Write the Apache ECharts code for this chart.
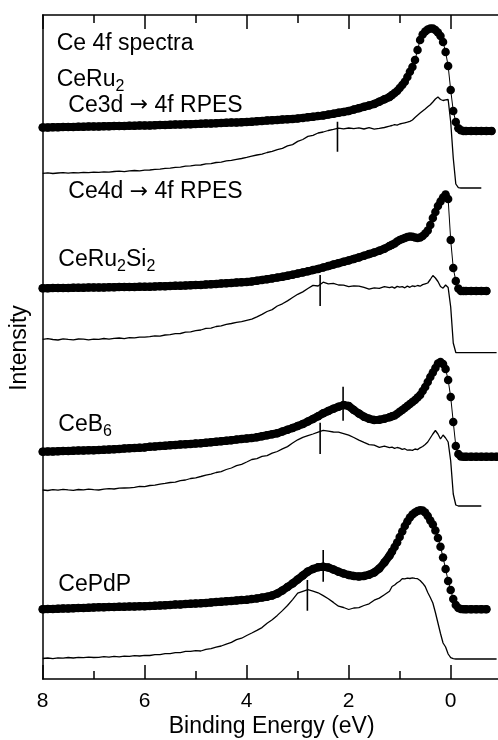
<!DOCTYPE html>
<html><head><meta charset="utf-8">
<script src="https://cdn.jsdelivr.net/npm/echarts@6/dist/echarts.min.js"></script>
<style>html,body{margin:0;padding:0;background:#fff}#c{width:498px;height:740px}</style>
</head><body><div id="c"></div>
<script>
// Binding energy grid (eV), shared by all spectra
const energy = [
 8.0,7.9,7.8,7.7,7.6,7.5,7.4,7.3,7.2,7.1,
 7.0,6.9,6.8,6.7,6.6,6.5,6.4,6.3,6.2,6.1,
 6.0,5.9,5.8,5.7,5.6,5.5,5.4,5.3,5.2,5.1,
 5.0,4.9,4.8,4.7,4.6,4.5,4.4,4.3,4.2,4.1,
 4.0,3.9,3.8,3.7,3.6,3.5,3.4,3.3,3.2,3.1,
 3.0,2.9,2.8,2.7,2.6,2.5,2.4,2.3,2.2,2.1,
 2.0,1.9,1.8,1.7,1.6,1.5,1.4,1.3,1.2,
 1.15,1.1,1.05,1.0,0.95,0.9,0.85,0.8,0.75,0.7,
 0.65,0.6,0.55,0.5,0.45,0.4,0.35,0.3,0.25,0.2,
 0.15,0.1,0.05,0.0,-0.05,-0.1,-0.15,-0.2,-0.25,-0.3,
 -0.4,-0.5,-0.6,-0.7,-0.8,-0.9
];

// Ce 4f spectra (offset intensities, arb. units)
const ceRu2Dots = [
 551.5,551.6,551.7,551.8,551.9,552.0,552.1,552.2,552.3,552.4,
 552.5,552.6,552.7,552.8,552.9,553.0,553.1,553.2,553.3,553.4,
 553.5,553.6,553.8,553.9,554.1,554.2,554.4,554.5,554.7,554.8,
 555.0,555.2,555.4,555.6,555.8,556.0,556.2,556.4,556.6,556.8,
 557.0,557.3,557.7,558.0,558.4,558.7,559.1,559.4,559.8,560.1,
 560.5,561.1,561.7,562.3,562.9,563.5,564.4,565.3,566.2,567.1,
 568.0,569.4,570.8,572.2,573.6,575.0,577.3,579.7,582.0,
 584,586,588,591,594,597.3,602,607.3,612,619,
 629,639,644.5,647.5,649.5,650.5,650.5,649,646.5,643,
 637,627,613,589,568,557,550.7,548.7,548,548,
 548,548,548,548,548,null
];
const ceRu2Line = [
 505.7,506.2,505.5,506.0,506.3,505.8,506.4,506.1,506.6,506.3,
 506.9,506.7,507.2,506.9,507.5,507.8,507.4,508.2,508.5,508.2,
 508.9,509.0,509.6,509.9,510.6,510.8,511.7,511.9,512.8,513.1,
 513.8,514.0,515.1,515.4,516.5,516.9,518.1,518.6,519.7,520.5,
 521.6,522.8,524.0,524.8,526.5,527.6,529.3,530.6,533.1,534.4,
 537.6,539.5,542.6,543.7,546.0,547.0,548.5,549.6,550.9,550.2,
 551.0,550.4,551.2,550.0,551.3,549.9,550.6,551.5,552.8,
 553.5,554.3,553.8,555.0,555.6,556.2,556.8,557.6,559.0,561.5,
 563.8,565.9,568.0,570.0,572.2,574.3,577.0,580.0,582.0,579.5,
 578.5,579.2,579.5,557.0,521.0,495.0,491.3,491.0,491.0,491.0,
 491,491,491,null,null,null
];
const ceRu2Si2Dots = [
 390.7,390.8,390.9,390.9,391.0,391.1,391.2,391.2,391.3,391.4,
 391.5,391.6,391.6,391.7,391.8,391.9,391.9,392.0,392.1,392.2,
 392.2,392.3,392.5,392.7,392.8,393.0,393.2,393.3,393.5,393.7,
 393.9,394.0,394.4,394.7,395.0,395.4,395.7,396.1,396.4,396.8,
 397.1,397.6,398.3,399.1,399.8,400.6,401.4,402.2,403.2,404.3,
 405.4,406.6,407.7,408.9,410.1,411.5,412.9,414.4,415.8,417.2,
 418.6,420.1,421.6,423.2,424.9,426.5,428.2,430.3,433.0,
 434.2,435.5,437.5,439,440,441,442,442.5,442.2,441.5,
 441,441.5,443,445.5,448.5,454,461,467,473,477.5,
 481.5,484.5,480,439,411,398,390.5,388,388,388,
 388,388,388,388,null,null
];
const ceRu2Si2Line = [
 339.7,340.3,339.5,339.0,340.2,339.6,339.2,340.0,339.8,339.1,
 339.9,339.7,340.5,339.8,340.6,341.0,340.4,341.3,341.1,341.9,
 341.8,342.3,343.2,342.9,344.0,344.4,345.3,345.5,346.9,347.2,
 348.3,349.0,350.6,350.9,352.5,353.1,354.6,355.5,356.7,357.3,
 358.6,359.9,362.1,364.6,367.5,369.4,373.0,375.2,378.1,381.5,
 384.7,387.1,390.5,393.6,393.0,396.8,395.2,395.6,394.0,393.8,
 392.4,393.2,392.9,391.6,389.8,391.2,390.6,392.4,391.3,
 392.1,390.9,392.6,391.8,392.4,391.2,392.9,391.7,393.2,392.5,
 393.5,392.8,394.4,395.2,396.0,399.5,403.5,401.0,397.5,392.5,
 390.8,394.0,391.5,372.0,336.0,326.5,326.3,326.3,326.3,326.3,
 326.3,326.3,326.3,326.3,326.3,326.3
];
const ceB6Dots = [
 227.3,227.5,227.6,227.8,227.9,228.1,228.2,228.4,228.5,228.7,
 228.8,229.0,229.2,229.5,229.8,230.1,230.4,230.7,231.0,231.3,
 231.6,232.3,232.6,233.0,233.3,233.7,234.0,234.4,234.7,235.0,
 235.4,235.7,236.2,236.8,237.3,237.8,238.3,238.8,239.4,239.9,
 240.4,240.9,241.8,242.8,243.7,244.7,245.7,247.5,249.3,251.1,
 253.0,254.9,257.5,260.1,262.8,265.7,268.0,270.3,272.3,274.0,
 273.0,269.0,265.5,262.3,260.2,259.0,259.3,260.2,261.8,
 262.7,263.6,265.2,267.3,269,271,273,275,277,279,
 281.5,284,288,292,297,302,306.5,311,315.5,317,
 315,310,299,282,257,233,225,222.5,222.3,222.3,
 222.3,222.3,222.3,222.3,222.3,222.3
];
const ceB6Line = [
 189.0,188.5,189.3,188.8,189.6,189.1,188.7,189.5,189.2,189.9,
 189.4,189.0,189.8,190.3,190.0,190.8,191.0,191.2,191.7,192.6,
 192.4,193.5,193.8,194.8,195.6,196.5,196.8,198.3,199.0,200.5,
 201.2,202.5,203.9,204.8,206.5,207.4,209.5,211.0,213.4,214.7,
 217.0,219.5,220.4,222.6,223.4,225.8,227.5,230.1,232.4,236.0,
 239.2,241.6,243.3,245.0,246.9,248.6,247.9,247.0,246.8,245.4,
 243.9,241.5,238.9,236.6,234.4,233.8,231.6,232.8,231.4,
 231.9,230.7,231.5,230.9,229.6,230.3,228.8,229.2,228.6,230.0,
 229.4,231.2,232.5,234.5,237.0,241.0,245.0,248.5,245.0,240.0,
 244.0,241.0,237.0,218.0,185.0,174.0,173.0,173.0,173.0,173.0,
 173.0,173.0,173.0,null,null,null
];
const cePdPDots = [
 69.7,69.9,70.1,70.3,70.4,70.6,70.8,71.0,71.1,71.3,
 71.5,71.7,71.8,71.9,72.0,72.2,72.3,72.4,72.5,72.7,
 72.8,73.0,73.3,73.5,73.8,74.1,74.4,74.6,74.9,75.2,
 75.5,75.7,76.1,76.5,76.9,77.3,77.7,78.1,78.5,78.9,
 79.3,79.9,80.6,81.4,82.3,83.5,85.5,88.5,92.0,95.5,
 99.5,103.5,107.5,110.0,111.8,112.3,111.5,109.5,107.3,105.5,
 104.0,103.0,102.5,103.0,104.3,106.5,110.5,116.5,123.3,
 127.5,132,136.5,142,147.5,153,157.5,161.5,164.5,166.5,
 168,168.8,168.5,166.5,163,158.5,154.5,148.5,141,132.3,
 121.5,110,98,89,80,74,71,70,69.7,69.7,
 69.7,69.7,69.7,69.7,null,null
];
const cePdPLine = [
 20.5,21.0,20.4,21.2,20.8,21.5,21.0,21.6,21.3,21.9,
 21.5,21.7,22.3,21.8,22.6,22.2,22.9,22.6,23.3,23.0,
 23.6,23.5,24.3,24.4,25.3,25.3,26.3,26.4,27.6,27.6,
 28.4,28.0,29.6,30.3,31.8,33.0,34.9,36.6,39.4,40.8,
 43.5,46.0,48.6,51.4,55.8,59.2,63.6,68.4,73.5,79.4,
 85.8,87.6,89.4,87.9,86.2,83.4,80.3,76.6,72.8,71.5,
 69.5,71.0,71.3,73.5,75.2,78.8,80.9,84.3,87.8,
 92.5,94.0,96.3,97.8,100.4,100.2,100.9,100.5,101.2,100.7,
 100.3,98.5,95.8,92.5,86.5,81.5,76.0,66.5,56.0,45.5,
 36.0,32.0,25.0,21.3,20.3,20.0,20.0,20.0,20.0,20.0,
 20,20,20,20,20,20
];

// Feature markers (vertical bars)
const markerE    = [2.22, 2.56, 2.11, 2.56, 2.50, 2.81];
const markerLow  = [527.3, 373.0, 258.3, 225.0, 97.3, 68.3];
const markerHigh = [557.3, 404.0, 292.3, 256.3, 129.0, 99.0];

// Text
const xTicks = [8, 6, 4, 2, 0];
const xName = 'Binding Energy (eV)';
const yName = 'Intensity';

const FONT = '"Liberation Sans", Arial, Helvetica, sans-serif';
const BLACK = '#000';

function pairs(vals, keep) {
  const out = [];
  for (let i = 0; i < energy.length; i++) {
    if (vals[i] !== null && vals[i] !== undefined && (!keep || keep(energy[i]))) out.push([energy[i], vals[i]]);
  }
  return out;
}

const lineSets = [ceRu2Line, ceRu2Si2Line, ceB6Line, cePdPLine];
const dotSets = [ceRu2Dots, ceRu2Si2Dots, ceB6Dots, cePdPDots];

const series = [];
lineSets.forEach(v => series.push({
  type: 'line', data: pairs(v), symbol: 'none', silent: true,
  lineStyle: {color: BLACK, width: 1.3}, z: 2
}));
// dense dot band where the sampled points overlap (sparser 0.1 eV part and flat tail)
dotSets.forEach(v => {
  [e => e >= 1.15, e => e <= -0.3].forEach(keep => series.push({
    type: 'line', data: pairs(v, keep), symbol: 'none', silent: true,
    lineStyle: {color: BLACK, width: 8, cap: 'round', join: 'round'}, z: 3
  }));
});
dotSets.forEach(v => series.push({
  type: 'line', data: pairs(v), symbol: 'circle', symbolSize: 8.5, showAllSymbol: true, silent: true,
  itemStyle: {color: BLACK, borderWidth: 0}, lineStyle: {color: BLACK, width: 1}, z: 3
}));
markerE.forEach((e, i) => series.push({
  type: 'line', data: [[e, markerLow[i]], [e, markerHigh[i]]], symbol: 'none', silent: true,
  lineStyle: {color: BLACK, width: 1.6}, z: 4
}));

const axisCommon = {
  type: 'value', min: -2, max: 8, interval: 2, inverse: true,
  axisLine: {show: true, onZero: false, lineStyle: {color: BLACK, width: 1.5}},
  axisTick: {show: true, inside: true, length: 14, lineStyle: {color: BLACK, width: 1.5}},
  minorTick: {show: true, splitNumber: 2, length: 8, lineStyle: {color: BLACK, width: 1.5}},
  splitLine: {show: false}, minorSplitLine: {show: false}
};

const sub = {fontSize: 16, fontFamily: FONT, fill: BLACK, lineHeight: 16, verticalAlign: 'bottom'};
const main = {fontSize: 23, fontFamily: FONT, fill: BLACK, lineHeight: 30};
const arrow = {fontSize: 22, fontFamily: '"DejaVu Sans", sans-serif', fill: BLACK, lineHeight: 30};
function label(x, y, text) {
  return {type: 'text', x: x, y: y, silent: true,
    style: {text: text, rich: {n: main, s: sub, a: arrow}, fill: BLACK, fontSize: 23, fontFamily: FONT,
            align: 'left', verticalAlign: 'middle'}};
}

const chart = echarts.init(document.getElementById('c'), null, {renderer: 'canvas'});
chart.setOption({
  animation: false,
  backgroundColor: '#fff',
  grid: {left: 42.7, top: 15, width: 510, height: 664, containLabel: false, outerBoundsMode: 'none'},
  xAxis: [
    Object.assign({}, axisCommon, {
      position: 'bottom',
      axisLabel: {show: true, color: BLACK, fontSize: 21, fontFamily: FONT, margin: 12,
        formatter: v => (xTicks.indexOf(v) >= 0 ? String(v) : '')}
    }),
    Object.assign({}, axisCommon, {position: 'top', axisLabel: {show: false}})
  ],
  yAxis: {
    type: 'value', min: 0, max: 664, position: 'left',
    axisLine: {show: true, onZero: false, lineStyle: {color: BLACK, width: 1.5}},
    axisTick: {show: false}, axisLabel: {show: false}, splitLine: {show: false}
  },
  series: series,
  graphic: [
    label(56.7, 43.3, '{n|Ce 4f spectra}'),
    label(56.7, 80, '{n|CeRu}{s|2}'),
    label(68.3, 105.5, '{n|Ce3d }{a|\u2192}{n| 4f RPES}'),
    label(68.3, 192, '{n|Ce4d }{a|\u2192}{n| 4f RPES}'),
    label(58.3, 260, '{n|CeRu}{s|2}{n|Si}{s|2}'),
    label(58.3, 425, '{n|CeB}{s|6}'),
    label(58.3, 585, '{n|CePdP}'),
    {type: 'text', x: 271.7, y: 726.7, silent: true,
      style: {text: xName, fill: BLACK, fontSize: 23, fontFamily: FONT, align: 'center', verticalAlign: 'middle'}},
    {type: 'text', x: 20, y: 348, rotation: Math.PI / 2, silent: true,
      style: {text: yName, fill: BLACK, fontSize: 23, fontFamily: FONT, align: 'center', verticalAlign: 'middle'}}
  ]
});
</script>
</body></html>
